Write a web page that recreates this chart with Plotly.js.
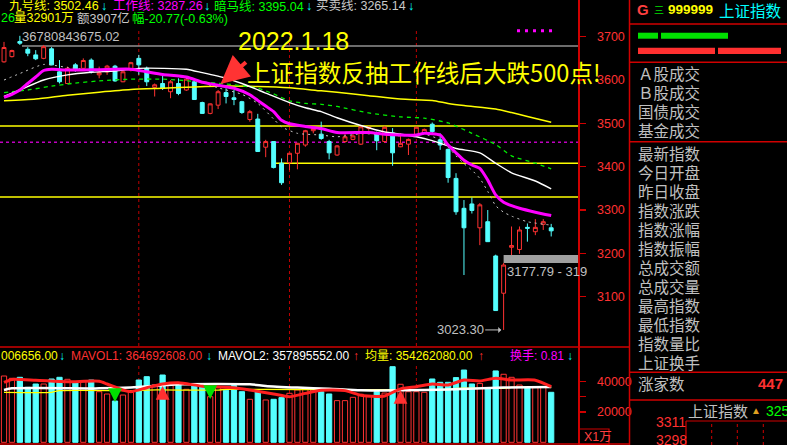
<!DOCTYPE html>
<html><head><meta charset="utf-8">
<script src="https://cdn.plot.ly/plotly-3.0.1.min.js"></script>
<style>html,body{margin:0;padding:0;background:#000;overflow:hidden}#chart{width:787px;height:445px}</style>
</head><body><div id="chart"></div>
<script>
// ---------------- DATA ----------------
const dates = [
 '2021-12-09','2021-12-10','2021-12-13','2021-12-14','2021-12-15','2021-12-16','2021-12-17','2021-12-20','2021-12-21','2021-12-22',
 '2021-12-23','2021-12-24','2021-12-27','2021-12-28','2021-12-29','2021-12-30','2021-12-31',
 '2022-01-04','2022-01-05','2022-01-06','2022-01-07','2022-01-10','2022-01-11','2022-01-12','2022-01-13','2022-01-14','2022-01-17',
 '2022-01-18','2022-01-19','2022-01-20','2022-01-21','2022-01-24','2022-01-25','2022-01-26','2022-01-27','2022-01-28',
 '2022-02-07','2022-02-08','2022-02-09','2022-02-10','2022-02-11','2022-02-14','2022-02-15','2022-02-16','2022-02-17','2022-02-18',
 '2022-02-21','2022-02-22','2022-02-23','2022-02-24','2022-02-25','2022-02-28',
 '2022-03-01','2022-03-02','2022-03-03','2022-03-04','2022-03-07','2022-03-08','2022-03-09','2022-03-10','2022-03-11','2022-03-14',
 '2022-03-15','2022-03-16','2022-03-17','2022-03-18','2022-03-21','2022-03-22','2022-03-23','2022-03-24'];
const openP  = [3642,3654,3689,3671,3658,3650,3672,3619,3592,3635, 3627,3646,3612,3619,3632,3596,3623,3650,3627,3583,
                3592,3573,3592,3577,3596,3548,3523,3542,3571,3559, 3550,3509,3510,3445,3458,3408,3409,3431,3450,3483,
                3475,3458,3427,3458,3463,3452,3488,3477,3458,3478, 3446,3452,3471,3478,3498,3462,3440,3373,3304,3314,
                3259,3273,3194,3108,3214,3209,3260,3250,3267,3259];
const highP  = [3688,3670,3702,3676,3669,3681,3676,3646,3631,3639, 3650,3650,3631,3635,3635,3623,3642,3658,3631,3592,
                3612,3600,3604,3604,3600,3550,3546,3577,3581,3577, 3552,3531,3522,3462,3459,3419,3432,3455,3485,3494,
                3504,3462,3450,3477,3477,3496,3494,3481,3494,3489, 3477,3465,3492,3488,3502,3477,3442,3385,3323,3329,
                3316,3300,3197,3177.79,3262,3262,3269,3279,3279,3268];
const lowP   = [3640,3652,3681,3655,3646,3648,3634,3592,3591,3619, 3625,3615,3604,3612,3596,3595,3620,3612,3586,3562,
                3577,3558,3565,3575,3554,3522,3521,3533,3546,3542, 3522,3504,3435,3422,3396,3358,3392,3394,3446,3477,
                3462,3417,3425,3455,3461,3450,3483,3438,3455,3402, 3445,3427,3469,3477,3477,3439,3363,3289,3150,3292,
                3219,3227,3068,3023.30,3196,3199,3227,3242,3254,3239];
const closeP = [3675,3668,3685,3662,3649,3677,3635,3596,3627,3625, 3645,3619,3617,3632,3598,3619,3640,3635,3596,3589,
                3581,3596,3569,3602,3555,3523,3545,3573,3562,3555, 3525,3527,3435,3458,3398,3363,3431,3454,3483,3488,
                3465,3432,3448,3469,3471,3492,3491,3460,3491,3432, 3454,3463,3491,3486,3481,3450,3375,3296,3259,3299,
                3312,3227,3068,3173,3218,3254,3258,3260,3273,3252];
// volume, unit: 万
const volume = [43758,42240,42900,36300,38478,38478,41778,42900,41580,40000, 40000,41118,33396,31878,27258,31218,32980,41118,43296,37818,
                44418,37818,37818,34980,37818,36700,30096,36700,34320,37400, 33400,28380,33400,27940,28380,29480,32340,34540,34980,34540,
                33400,31900,27500,27500,29700,31700,30100,33400,32500,49900, 38300,33400,33400,33000,41800,39600,39600,42700,47700,38500,
                38900,36100,47100,44900,42900,37800,36100,36100,36700,33000];

// indicator lines (index -> value)
const workIdx = [0,1,2,3,4,5,6,8,12,16,18,20,23,25,27,29,31,32,33,34,35,36,38,40,42,46,48,50,52,53,55,56,57,58,59,60,61,62,63,64,65,67,69];
const workVal = [3560,3567,3577,3592,3607,3622,3625,3623,3624,3625,3619,3613,3607,3595,3588,3581,3566,3553,3540,3527,3507,3499,3493,3488,3479,3479,3475,3473,3473,3477,3473,3450,3432,3415,3404,3396,3369,3335,3318,3310,3304,3295,3287.26];
const whiteIdx = [0,2,5,8,11,14,17,20,23,25,28,30,33,36,38,40,42,45,48,50,52,54,57,60,62,64,67,69];
const whiteVal = [3562,3577,3600,3612,3618,3621,3627,3627,3625,3617,3604,3592,3570,3548,3536,3527,3513,3495,3480,3475,3469,3460,3442,3432,3408,3386,3367,3349];
const darkIdx = [0,3,6,9,12,16,20,24,28,32,34,36,38,40,42,46,50,53,56,59,62,64,67,69];
const darkVal = [3571,3577,3586,3593,3598,3602,3602,3597,3591,3581,3568,3552,3546,3544,3539,3524,3515,3512,3501,3477,3451,3425,3408,3395.04];
const nineIdx = [0,4,8,12,16,20,24,28,32,36,40,42,46,50,54,56,58,62,64,66,69];
const nineVal = [3552,3556,3565,3572,3578,3581,3584,3586,3585,3582,3575,3572,3564,3556,3553,3546,3541,3533,3525,3516,3502.46];
const tradeIdx = [0,2,5,8,12,16,19,21,24,27,30,32,34,35,37,40,42,45,48,50,53,55,56,57,58,59,60,61,62,63,64,66,69];
const tradeVal = [3600,3615,3636,3629,3622,3624,3615,3612,3600,3582,3567,3546,3510,3492,3477,3473,3469,3476,3474,3471,3475,3462,3445,3425,3407,3392,3373,3343,3310,3295,3286,3273,3265.14];

const mavol1Idx = [0,1,4,8,12,13,15,16,18,20,22,25,29,31,34,36,38,40,43,45,47,48,50,52,54,56,58,60,62,64,67,69];
const mavol1Val = [39500,41500,41000,40000,40300,38500,34500,33400,36000,38500,39300,37000,36000,34500,31900,30100,32300,34300,34100,31000,30300,30600,35300,36700,38500,37800,41100,40500,42300,41100,41000,36700];
const mavol2Idx = [0,1,12,16,19,22,31,33,37,41,45,50,56,63,69];
const mavol2Val = [34500,35600,35600,36200,37200,38300,38300,37200,36100,35300,34300,34300,34900,36100,36500];
const avgVolIdx = [0,6,7,17,18,27,28,56,57,63,64,69];
const avgVolVal = [33000,33000,34100,34100,34500,34500,34900,34900,35600,35600,36200,36200];

const levels = [3678.5, 3493.9, 3456.3, 3407.8, 3330.3];   // drawn horizontal lines
const gapLow = 3177.79, gapHigh = 3196.0;
const sigDownIdx = [14, 26], sigDownVol = [26600, 28600];
const sigUpIdx = [20, 50], sigUpVol = [37200, 34500];
const priceTicks = [3100,3200,3300,3400,3500,3600,3700];
const volTicks = [20000,30000,40000], volTickText = ['20000','','40000'];
const lowMarkIdx = 63;

// ---------------- LAYOUT HELPERS ----------------
const W = 787, H = 445;
const PX = x => x / W, PY = y => 1 - y / H;
const xRange = [-0.504, 72.38];
const RED = '#ff3232', CYAN = '#54ffff', AXRED = '#d00000';
const FONT = 'Liberation Sans, Noto Sans CJK SC, sans-serif';
const CJK = 'Noto Sans CJK SC, sans-serif';
const idx = dates.map((d, i) => i);
const isUp = idx.map(i => closeP[i] > openP[i]);

const traces = [];
traces.push({type:'candlestick', x:idx, open:openP, high:highP, low:lowP, close:closeP,
  xaxis:'x', yaxis:'y', whiskerwidth:0, hoverinfo:'skip', showlegend:false,
  increasing:{line:{color:RED, width:1}, fillcolor:'#000000'},
  decreasing:{line:{color:CYAN, width:1}, fillcolor:CYAN}});
function line(xs, ys, color, width, dash, ax, ay) {
  traces.push({type:'scatter', mode:'lines', x:xs, y:ys, xaxis:ax||'x', yaxis:ay||'y', hoverinfo:'skip', showlegend:false,
    line:{color, width, dash:dash||'solid', shape:'spline', smoothing:0.6}});
}
line(nineIdx, nineVal, '#ffff00', 1.5);
line(darkIdx, darkVal, '#00ee00', 1.3, '4px,4px');
line(whiteIdx, whiteVal, '#ffffff', 1.4);
line(tradeIdx, tradeVal, '#c8c8c8', 1, '2px,4px');
line(workIdx, workVal, '#ff00ff', 3);

traces.push({type:'bar', x:idx, y:volume, xaxis:'x2', yaxis:'y2', width:0.66, hoverinfo:'skip', showlegend:false,
  marker:{color: isUp.map(u => u ? '#000000' : CYAN), line:{color: isUp.map(u => u ? RED : CYAN), width:1}}});
line(avgVolIdx, avgVolVal, '#ffff00', 1.3, 'solid', 'x2', 'y2');
line(mavol2Idx, mavol2Val, '#ffffff', 2.5, 'solid', 'x2', 'y2');
line(mavol1Idx, mavol1Val, '#ff2020', 3, 'solid', 'x2', 'y2');

// ---------------- SHAPES ----------------
const shapes = [];
const xEnd = 578 / W;
// month boundary dotted lines
idx.forEach(i => {
  if (i > 0 && dates[i].slice(0,7) !== dates[i-1].slice(0,7)) {
    shapes.push({type:'line', xref:'x', yref:'paper', x0:i, x1:i, y0:PY(31), y1:PY(347), layer:'below', line:{color:'#c00000', width:1, dash:'dot'}});
    shapes.push({type:'line', xref:'x', yref:'paper', x0:i, x1:i, y0:PY(366), y1:PY(443), layer:'below', line:{color:'#c00000', width:1, dash:'dot'}});
  }
});
const levelStyle = [
  {c:'#909090', w:1.5, d:'solid', from:2.27},
  {c:'#ffff00', w:1.5, d:'solid', from:xRange[0]},
  {c:'#c000c0', w:1.5, d:'dot', from:xRange[0]},
  {c:'#ffff00', w:1.5, d:'solid', from:33.8},
  {c:'#ffff00', w:1.5, d:'solid', from:xRange[0]}];
levels.forEach((p, k) => shapes.push({type:'line', xref:'x', yref:'y', x0:levelStyle[k].from, x1:xRange[1], y0:p, y1:p,
  layer:'below', line:{color:levelStyle[k].c, width:levelStyle[k].w, dash:levelStyle[k].d}}));
shapes.push({type:'rect', xref:'x', yref:'y', x0:lowMarkIdx, x1:xRange[1], y0:gapLow, y1:gapHigh, fillcolor:'#a0a0a0', line:{width:0}, layer:'below'});
// magenta dots top
shapes.push({type:'line', xref:'paper', yref:'paper', x0:PX(517), x1:PX(553), y0:PY(30.7), y1:PY(30.7), line:{color:'#ff00ff', width:3, dash:'3px,5px'}});
// frame lines
const fr = (x0,y0,x1,y1,w) => shapes.push({type:'line', xref:'paper', yref:'paper', x0:PX(x0), x1:PX(x1), y0:PY(y0), y1:PY(y1), line:{color:AXRED, width:w||1.5}});
fr(0,347,629,347); fr(0,444,629,444); fr(629.5,0,629.5,445);
[24,62.3,141.7,372.3,400].forEach(y => fr(629,y,787,y));
fr(686,421,787,421,1.2); fr(686,421,686,445,1.2);
[711.7,737.3,763.3].forEach(x => shapes.push({type:'line', xref:'paper', yref:'paper', x0:PX(x), x1:PX(x), y0:PY(424), y1:PY(445), line:{color:AXRED, width:1, dash:'dot'}}));
// X1万 box
shapes.push({type:'rect', xref:'paper', yref:'paper', x0:PX(579), x1:PX(609), y0:PY(429), y1:PY(444.5), line:{color:AXRED, width:1.2}});
// gauge bars
const bar = (x0,x1,y0,y1,c) => shapes.push({type:'rect', xref:'paper', yref:'paper', x0:PX(x0), x1:PX(x1), y0:PY(y0), y1:PY(y1), fillcolor:c, line:{width:0}});
bar(638,658,32.7,38.7,'#00e000'); bar(661,728,32.7,38.7,'#00e000');
bar(638,715,47.7,54,'#ff3030'); bar(718,781,47.7,54,'#ff3030');

// ---------------- ANNOTATIONS ----------------
const ann = [];
function t(x, y, text, color, size, fam, extra) {
  ann.push(Object.assign({xref:'paper', yref:'paper', x:PX(x), y:PY(y), xanchor:'left', yanchor:'middle', text, showarrow:false,
    font:{color, size, family:fam||FONT}}, extra||{}));
}
// header row 1
t(7,6,'九号线: 3502.46','#ffff00',12.5); t(99,6,'↓','#00ffff',12.5);
t(111,6,'工作线: 3287.26','#ff00ff',12.5); t(202,6,'↓','#00ffff',12.5);
t(212,6,'暗马线: 3395.04','#00ff00',12.5); t(304,6,'↓','#00ffff',12.5);
t(314,6,'买卖线: 3265.14','#c8c8c8',12.5); t(406,6,'↓','#00ffff',12.5);
// header row 2
t(-1,18.5,'26','#00ff00',12.5); t(12,18.5,'量32901万','#ffff00',12.5);
t(75,18.5,'额3907亿','#c8c8c8',12.5); t(130,18.5,'幅-20.77(-0.63%)','#00ff00',12.5);
// high label
t(20,36.7,'36780843675.02','#c0c0c0',13);
// big annotation
t(236,40.5,'2022.1.18','#ffff00',25);
t(245,72,'上证指数反抽工作线后大跌500点!','#ffff00',23.6, CJK);
ann.push({xref:'x', yref:'y', x:27.3, y:3591, ax:27, ay:-23, text:'', showarrow:true, arrowhead:2, arrowsize:1.4, arrowwidth:4, arrowcolor:'#ff3333'});
// low label with arrow
ann.push({xref:'x', yref:'y', x:lowMarkIdx-0.3, y:lowP[lowMarkIdx], ax:-41, ay:0, text:'3023.30', showarrow:true, arrowhead:1, arrowsize:1, arrowwidth:1, arrowcolor:'#c0c0c0', font:{color:'#c0c0c0', size:13, family:FONT}});
// gap text
t(505,271,'3177.79 - 319','#c0c0c0',13);
// volume header
t(-1,356,'006656.00','#ffff00',12); t(57,356,'↓','#00ffff',12);
t(69,356,'MAVOL1: 364692608.00','#ff3030',12); t(204,356,'↓','#00ffff',12);
t(216,356,'MAVOL2: 357895552.00','#ffffff',12); t(351,356,'↑','#ff3030',12);
t(363,356,'均量: 354262080.00','#ffff00',12); t(476,356,'↑','#ff3030',12);
t(508,356,'换手: 0.81','#ff00ff',12); t(565,356,'↓','#00ffff',12);
t(582,437,'X1万','#ff4040',12.5);
// volume signals
sigDownIdx.forEach((i,k) => ann.push({xref:'x2', yref:'y2', x:i, y:sigDownVol[k], ax:0, ay:-13, text:'', showarrow:true, arrowhead:2, arrowsize:1.1, arrowwidth:2.5, arrowcolor:'#00e000'}));
sigUpIdx.forEach((i,k) => ann.push({xref:'x2', yref:'y2', x:i, y:sigUpVol[k], ax:0, ay:13, text:'', showarrow:true, arrowhead:2, arrowsize:1.1, arrowwidth:2.5, arrowcolor:'#ff3030'}));
// right panel
t(635,9.5,'G','#ff4040',15,FONT,{font:{color:'#ff4040',size:15,family:FONT,weight:'bold'}});
t(652,9.5,'三','#00e000',10,CJK);
t(666,9.5,'999999','#ffff00',13.5,FONT,{font:{color:'#ffff00',size:13.5,family:FONT,weight:'bold'}});
t(717,9.5,'上证指数','#00ffff',15.5,CJK);
const labels1 = ['Ａ股成交','Ｂ股成交','国债成交','基金成交'], ys1 = [73.3,91.7,110.7,129.7];
labels1.forEach((s,k) => t(636, ys1[k], s, '#c0c0c0', 15.5, CJK));
const labels2 = ['最新指数','今日开盘','昨日收盘','指数涨跌','指数涨幅','指数振幅','总成交额','总成交量','最高指数','最低指数','指数量比','上证换手'];
labels2.forEach((s,k) => t(636, 152.5 + k*19.02, s, '#c0c0c0', 15.5, CJK));
t(636,382.5,'涨家数','#c0c0c0',15.5,CJK);
t(756,383,'447','#ff3030',15,FONT,{font:{color:'#ff3030',size:15,family:FONT,weight:'bold'}});
t(686,410.7,'上证指数','#c0c0c0',15,CJK);
t(749,410.7,'▲','#e0a020',10);
t(764,410.7,'3250.26','#00ff00',14);
t(654,422,'3311','#ff3030',14); t(654,439.5,'3298','#ff3030',14);

const layout = {
  width:W, height:H, margin:{l:0,r:0,t:0,b:0,pad:0},
  paper_bgcolor:'#000000', plot_bgcolor:'rgba(0,0,0,0)',
  font:{family:FONT, color:'#c0c0c0', size:12},
  showlegend:false, dragmode:false,
  xaxis:{domain:[0,xEnd], range:xRange, showgrid:false, zeroline:false, showticklabels:false, ticks:'', showline:false, rangeslider:{visible:false}, anchor:'y', fixedrange:true},
  xaxis2:{domain:[0,xEnd], range:xRange, showgrid:false, zeroline:false, showticklabels:false, ticks:'', showline:false, anchor:'y2', fixedrange:true},
  yaxis:{domain:[98/H,1], range:[2983.9,3784.7], side:'right', showgrid:false, zeroline:false, showline:true, linecolor:AXRED, linewidth:1.5,
    tickmode:'array', tickvals:priceTicks, ticks:'outside', ticklen:6, tickcolor:AXRED, tickwidth:1.2, ticklabelstandoff:9,
    tickfont:{color:'#ff3232', size:12.5, family:FONT}, anchor:'x', fixedrange:true},
  yaxis2:{domain:[0,98/H], range:[-1782,62898], side:'right', showgrid:false, zeroline:false, showline:true, linecolor:AXRED, linewidth:1.5,
    tickmode:'array', tickvals:volTicks, ticktext:volTickText, ticks:'outside', ticklen:6, tickcolor:AXRED, tickwidth:1.2, ticklabelstandoff:9,
    tickfont:{color:'#ff3232', size:12.5, family:FONT}, anchor:'x2', fixedrange:true},
  shapes, annotations:ann
};
Plotly.newPlot('chart', traces, layout, {staticPlot:true, displayModeBar:false});
</script></body></html>
